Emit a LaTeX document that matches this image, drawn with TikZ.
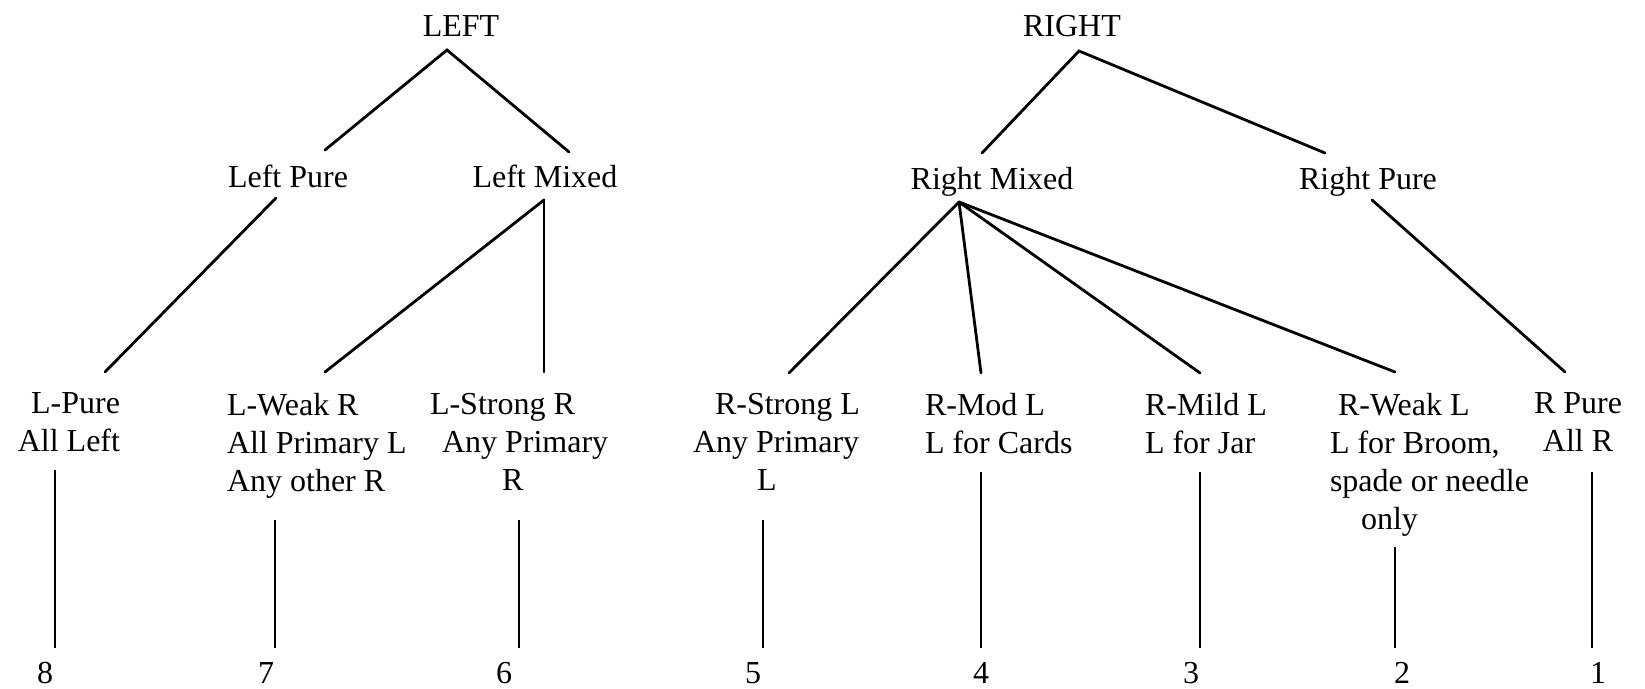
\documentclass[tikz,border=0pt]{standalone}
\usepackage{fontspec}
\setmainfont{Liberation Serif}
\begin{document}
\begin{tikzpicture}[x=0.5pt,y=-0.5pt,
  lbl/.style={inner sep=0pt, outer sep=0pt, font=\fontsize{16}{19}\selectfont},
  edge/.style={line width=1.4pt, line cap=round},
  stem/.style={line width=1pt},
]
\useasboundingbox (0,0) rectangle (1645,689);
\fill[white] (0,0) rectangle (1645,689);

% roots
\node[lbl,anchor=base] (L) at (461,37) {LEFT};
\node[lbl,anchor=base] (R) at (1072,37) {RIGHT};

% second level
\node[lbl,anchor=base] (LP) at (288,188) {Left Pure};
\node[lbl,anchor=base] (LM) at (545,188) {Left Mixed};
\node[lbl,anchor=base] (RM) at (992,190) {Right Mixed};
\node[lbl,anchor=base] (RP) at (1368,190) {Right Pure};

% leaf descriptions
\node[lbl,align=right,anchor=north east] (lpure) at (120,393) {L-Pure\\All Left};
\node[lbl,align=left,anchor=north west] (lweak) at (227,393) {L-Weak R\\All Primary L\\Any other R};
\node[lbl,align=left,anchor=north west] (lstrong) at (430,393) {L-Strong R\\\hspace*{6pt}Any Primary\\\hspace*{36pt}R};
\node[lbl,align=left,anchor=north west] (rstrong) at (693,393) {\hspace*{11pt}R-Strong L\\Any Primary\\\hspace*{32pt}L};
\node[lbl,align=left,anchor=north west] (rmod) at (925,393) {R-Mod L\\L for Cards};
\node[lbl,align=left,anchor=north west] (rmild) at (1145,393) {R-Mild L\\L for Jar};
\node[lbl,align=left,anchor=north west] (rweak) at (1330,393) {\hspace*{4pt}R-Weak L\\L for Broom,\\spade or needle\\\hspace*{15.5pt}only};
\node[lbl,align=center,anchor=north] (rpure) at (1578,393) {R Pure\\All R};

% rank numbers
\node[lbl,anchor=base] (n8) at (45,683) {8};
\node[lbl,anchor=base] (n7) at (266,683) {7};
\node[lbl,anchor=base] (n6) at (504,683) {6};
\node[lbl,anchor=base] (n5) at (753,683) {5};
\node[lbl,anchor=base] (n4) at (981,683) {4};
\node[lbl,anchor=base] (n3) at (1191,683) {3};
\node[lbl,anchor=base] (n2) at (1402,683) {2};
\node[lbl,anchor=base] (n1) at (1598,683) {1};

% root branches
\draw[edge] ([shift={(37,-38)}]LP.base) -- ([shift={(-14,13)}]L.base) -- ([shift={(24,-36)}]LM.base);
\draw[edge] ([shift={(-10,-37)}]RM.base) -- ([shift={(7,14)}]R.base) -- ([shift={(-43,-37)}]RP.base);

% second-level branches
\draw[edge] ([shift={(-12,10)}]LP.base) -- ([shift={(-15,-21)}]lpure.north east);
\draw[edge] ([shift={(-1,12)}]LM.base) -- ([shift={(98,-21)}]lweak.north west);
\draw[edge] ([shift={(-1,12)}]LM.base) -- ([shift={(114,-21)}]lstrong.north west);
\draw[edge] ([shift={(-33,12)}]RM.base) -- ([shift={(96,-20)}]rstrong.north west);
\draw[edge] ([shift={(-33,12)}]RM.base) -- ([shift={(56,-20)}]rmod.north west);
\draw[edge] ([shift={(-33,12)}]RM.base) -- ([shift={(55,-20)}]rmild.north west);
\draw[edge] ([shift={(-33,12)}]RM.base) -- ([shift={(65,-21)}]rweak.north west);
\draw[edge] ([shift={(4,10)}]RP.base) -- ([shift={(-13,-21)}]rpure.north);

% stems down to the rank numbers
\draw[stem] ([shift={(-65,77)}]lpure.north east) -- ([shift={(10,-35)}]n8.base);
\draw[stem] ([shift={(48,127)}]lweak.north west) -- ([shift={(9,-35)}]n7.base);
\draw[stem] ([shift={(89,127)}]lstrong.north west) -- ([shift={(15,-35)}]n6.base);
\draw[stem] ([shift={(70,127)}]rstrong.north west) -- ([shift={(10,-35)}]n5.base);
\draw[stem] ([shift={(56,79)}]rmod.north west) -- ([shift={(0,-35)}]n4.base);
\draw[stem] ([shift={(55,79)}]rmild.north west) -- ([shift={(9,-35)}]n3.base);
\draw[stem] ([shift={(65,154)}]rweak.north west) -- ([shift={(-7,-35)}]n2.base);
\draw[stem] ([shift={(14,79)}]rpure.north) -- ([shift={(-6,-35)}]n1.base);
\end{tikzpicture}
\end{document}
